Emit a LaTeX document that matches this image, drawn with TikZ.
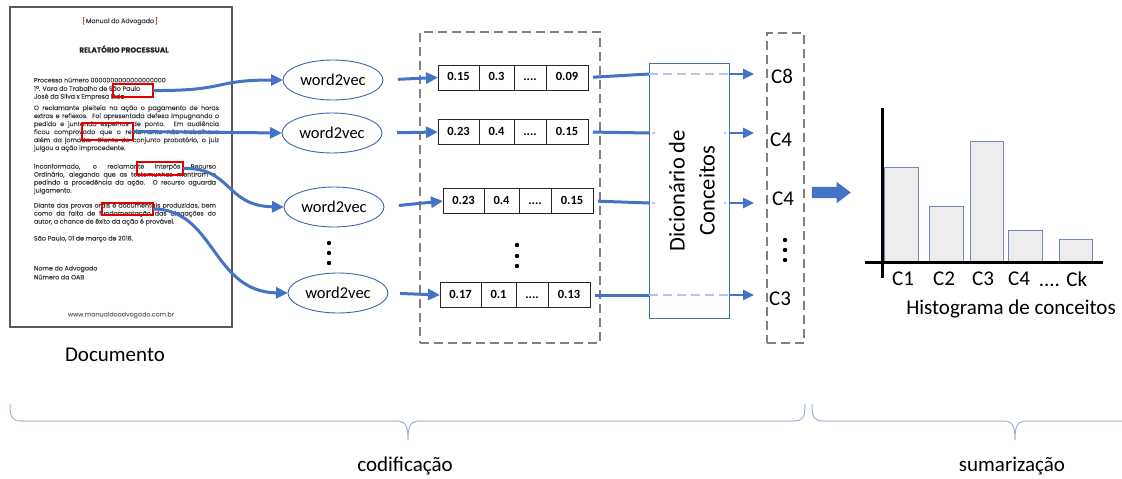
\documentclass[tikz,border=0pt]{standalone}
\usepackage{fontspec}
\usepackage{graphicx}
\setmainfont{Carlito}
\newfontfamily\docfont[FakeBold=0.25]{Poppins}
\usetikzlibrary{arrows.meta,shapes.geometric,shapes.arrows}
\definecolor{flow}{HTML}{4472C4}
\definecolor{ring}{HTML}{3F64AE}
\definecolor{ghost}{HTML}{B4C7E7}
\definecolor{frame}{HTML}{7F7F7F}
\definecolor{outline}{HTML}{41719C}
\definecolor{doctext}{HTML}{3C3C3C}
\definecolor{markred}{HTML}{E30000}
\definecolor{barfill}{HTML}{EDEDED}
\definecolor{baredge}{HTML}{6F88B5}
\definecolor{bracecol}{HTML}{9DB3D6}
\definecolor{pageedge}{HTML}{595959}

% justify a line to a given width: stretch the spaces, or squeeze if too long
\newlength\linelen
\newcommand\fitline[2]{\settowidth\linelen{#2}%
  \ifdim\linelen>#1\relax\resizebox{#1}{\height}{#2}\else\makebox[#1][s]{#2}\fi}
% one justified line of the sample document
\newcommand\jline[4]{\node[docline] (#1) at (34,#2) {\fitline{#3pt}{#4}};}
% one ragged line of the sample document
\newcommand\tline[3]{\node[docline] (#1) at (34,#2) {#3};}
% a four-cell embedding vector: name, x, y, values
\newcommand\vrow[7]{%
  \node[cell,minimum width=41pt,anchor=west] (#1a) at (#2,#3) {#4};
  \node[cell,minimum width=35pt,anchor=west] (#1b) at (#1a.east) {#5};
  \node[cell,minimum width=32pt,anchor=west] (#1c) at (#1b.east) {#6};
  \node[cell,minimum width=42pt,anchor=west] (#1d) at (#1c.east) {#7};}

\begin{document}
\begin{tikzpicture}[x=1pt,y=-1pt,
  every node/.style={inner sep=0pt,outer sep=0pt},
  docline/.style={font=\docfont\fontsize{6.3}{7}\selectfont,text=doctext,anchor=west},
  redmark/.style={draw=markred,line width=2.3pt},
  w2v/.style={ellipse,draw=ring,line width=0.9pt,minimum width=100pt,minimum height=40pt,
    font=\fontsize{16.5}{18}\selectfont},
  cell/.style={draw=black!85,line width=0.8pt,minimum height=25pt,text height=8.5pt,text depth=2pt,
    font=\bfseries\fontsize{12.5}{14}\selectfont},
  flowarrow/.style={draw=flow,line width=3pt,-{Triangle[length=12pt,width=11pt]}},
  flowtip/.style={draw=flow,line width=2.6pt,-{Triangle[length=11pt,width=10pt]}},
  feed/.style={draw=flow,line width=3pt},
  ghostline/.style={draw=ghost,line width=2.5pt},
  dashbox/.style={draw=frame,line width=2.3pt,dash pattern=on 9pt off 5pt},
  caption/.style={font=\fontsize{21}{24}\selectfont},
  bar/.style={draw=baredge,fill=barfill,line width=0.9pt},
  bracepath/.style={draw=bracecol,line width=1pt},
]
\useasboundingbox (0,0) rectangle (1122,479);

% ---------- sample document ----------
\node[draw=pageedge,line width=1.5pt,minimum width=222pt,minimum height=320pt] (doc) at (121,167) {};
\node[docline,anchor=center] (head) at (120,21) {\textcolor{markred}{[}\,Manual do Advogado\,\textcolor{markred}{]}};
\node[docline,anchor=center,font=\docfont\bfseries\fontsize{7.3}{8}\selectfont,text=black!85] (title) at (124,49) {RELATÓRIO PROCESSUAL};
\tline{h1}{80}{Processo número 0000000000000000000}
\tline{h2}{88.5}{1ª. Vara do Trabalho de São Paulo}
\tline{h3}{97}{José da Silva x Empresa Ltda}
\jline{p1}{108.5}{185}{O reclamante pleiteia na ação o pagamento de horas}
\jline{p2}{116.5}{185}{extras e reflexos. Foi apresentada defesa impugnando o}
\jline{p3}{124.5}{185}{pedido e juntando espelhos de ponto. Em audiência}
\jline{p4}{132.5}{185}{ficou comprovado que o reclamante não trabalhava}
\jline{p5}{140.5}{185}{além da jornada. Diante do conjunto probatório, o juiz}
\tline{p6}{148.5}{julgou a ação improcedente.}
\jline{q1}{167}{182}{Inconformado, o reclamante interpôs Recurso}
\jline{q2}{175}{182}{Ordinário, alegando que as testemunhas mentiram e}
\jline{q3}{183}{182}{pedindo a procedência da ação. O recurso aguarda}
\tline{q4}{191}{julgamento.}
\jline{s1}{206}{182}{Diante das provas orais e documentais produzidas, bem}
\jline{s2}{214}{182}{como da falta de fundamentação das alegações do}
\tline{s3}{222}{autor, a chance de êxito da ação é provável.}
\tline{d1}{239}{São Paulo, 01 de março de 2016.}
\tline{n1}{269}{Nome do Advogado}
\tline{n2}{277}{Número da OAB}
\node[docline,anchor=center,text=black!55] (site) at (121,315) {www.manualdoadvogado.com.br};

% highlighted words
\node[redmark,minimum width=40pt,minimum height=13pt] (m1) at (133,90.5) {};
\node[redmark,minimum width=51pt,minimum height=17pt] (m2) at (107.5,131.5) {};
\node[redmark,minimum width=46pt,minimum height=13pt] (m3) at (160,168.5) {};
\node[redmark,minimum width=51pt,minimum height=12pt] (m4) at (127.5,209) {};

\node[caption] (doclabel) at (115,355) {Documento};

% ---------- word2vec encoders ----------
\node[w2v] (e1) at (333,80) {word2vec};
\node[w2v] (e2) at (332,133) {word2vec};
\node[w2v] (e3) at (334,207) {word2vec};
\node[w2v] (e4) at (338,293) {word2vec};
\foreach \yy in {243,253,263} \fill (329,\yy) circle (2.2pt);

\draw[flowarrow] (m1.east) .. controls (228,91) and (212,80) .. (e1.west);
\draw[flowarrow] (m2.east) -- (e2.west);
\draw[flowarrow] (m3.east) .. controls (232,167) and (225,206) .. (e3.west);
\draw[flowarrow] (m4.east) .. controls (215,209) and (212,292) .. (e4.west);

% ---------- vectors ----------
\node[dashbox,minimum width=180pt,minimum height=311pt] (vecbox) at (510,187.5) {};
\vrow{v1}{438}{77.5}{0.15}{0.3}{....}{0.09}
\vrow{v2}{438}{132}{0.23}{0.4}{....}{0.15}
\vrow{v3}{443}{201}{0.23}{0.4}{....}{0.15}
\vrow{v4}{440}{295}{0.17}{0.1}{....}{0.13}
\foreach \yy in {245,256,266} \fill (517,\yy) circle (2.2pt);

\draw[flowarrow,shorten <=15pt] (e1.east) -- (v1a.west);
\draw[flowarrow,shorten <=15pt] (e2.east) -- (v2a.west);
\draw[flowarrow,shorten <=15pt] (e3.east) -- (v3a.west);
\draw[flowarrow,shorten <=12pt] (e4.east) -- (v4a.west);

% ---------- concept dictionary ----------
\coordinate (r1) at (0,74);
\coordinate (r2) at (0,133);
\coordinate (r3) at (0,203);
\coordinate (r4) at (0,295);
\coordinate (tipcol) at (754,0);
\coordinate (dictedge) at (649,0);

\draw[feed,shorten <=5pt] (v1d.east) -- (dictedge |- r1);
\draw[feed,shorten <=5pt] (v2d.east) -- (dictedge |- r2);
\draw[feed,shorten <=5pt] (v3d.east) -- (dictedge |- r3);
\draw[feed,shorten <=5pt] (v4d.east) -- (dictedge |- r4);

\node[draw=outline,fill=white,line width=0.9pt,minimum width=80pt,minimum height=255pt] (dict) at (689,190.5) {};
\draw[ghostline,dash pattern=on 9pt off 5pt] (dict.west |- r1) -- (dict.east |- r1);
\draw[ghostline,dash pattern=on 9pt off 5pt] (dict.west |- r4) -- (dict.east |- r4);
\foreach \r in {r2,r3} {
  \draw[ghostline] ([xshift=3pt]dict.west |- \r) -- ++(2.5,0);
  \draw[ghostline] ([xshift=-5.5pt]dict.east |- \r) -- ++(2.5,0);
}
\node[rotate=90,align=center,font=\fontsize{22.5}{30}\selectfont] (dicttext) at (692,190.5) {Dicionário de\\Conceitos};

% ---------- concept labels ----------
\node[dashbox,minimum width=37pt,minimum height=310pt] (cbox) at (785.5,188) {};
\node[caption] (c1) at (782,76) {C8};
\node[caption] (c2) at (781,140) {C4};
\node[caption] (c3) at (783,199) {C4};
\node[caption] (c4) at (780,299) {C3};
\foreach \yy in {240,250,260} \fill (785,\yy) circle (2.2pt);

\draw[flowtip] (dict.east |- r1) -- (tipcol |- r1);
\draw[flowtip] (dict.east |- r2) -- (tipcol |- r2);
\draw[flowtip] (dict.east |- r3) -- (tipcol |- r3);
\draw[flowtip] (dict.east |- r4) -- (tipcol |- r4);

\node[single arrow,fill=flow,minimum height=39pt,minimum width=21pt,
  single arrow head extend=5pt,single arrow tip angle=74,inner sep=5.5pt] (push) at (827.5,192.5) {};

% ---------- histogram ----------
\draw[bar] (884,167) rectangle (918,261);
\draw[bar] (929,206) rectangle (963,261);
\draw[bar] (970,141) rectangle (1003,261);
\draw[bar] (1008,230) rectangle (1042,261);
\draw[bar] (1059,239) rectangle (1092,261);
\draw[line width=3pt] (882,108) -- (882,278);
\draw[line width=3pt] (865,262) -- (1103,262);
\node[caption] (k1) at (903,279) {C1};
\node[caption] (k2) at (944,279) {C2};
\node[caption] (k3) at (983,279) {C3};
\node[caption] (k4) at (1019,279) {C4};
\node[caption] (k5) at (1063,279) {.... Ck};
\node[caption] (histlabel) at (1011,309) {Histograma de conceitos};

% ---------- stage braces ----------
\draw[bracepath] (10,404) .. controls (10,418) and (12,421) .. (22,421) -- (395,421)
  .. controls (405,421) and (408,424) .. (408,440)
  .. controls (408,424) and (411,421) .. (421,421) -- (793,421)
  .. controls (803,421) and (805,418) .. (805,404);
\draw[bracepath] (812,404) .. controls (812,418) and (814,421) .. (824,421) -- (1002,421)
  .. controls (1012,421) and (1015,424) .. (1015,440)
  .. controls (1015,424) and (1018,421) .. (1028,421) -- (1122,421);
\node[caption,font=\fontsize{21}{23}\selectfont] (stage1) at (405,466) {codificação};
\node[caption,font=\fontsize{21}{23}\selectfont] (stage2) at (1012,466) {sumarização};
\end{tikzpicture}
\end{document}
